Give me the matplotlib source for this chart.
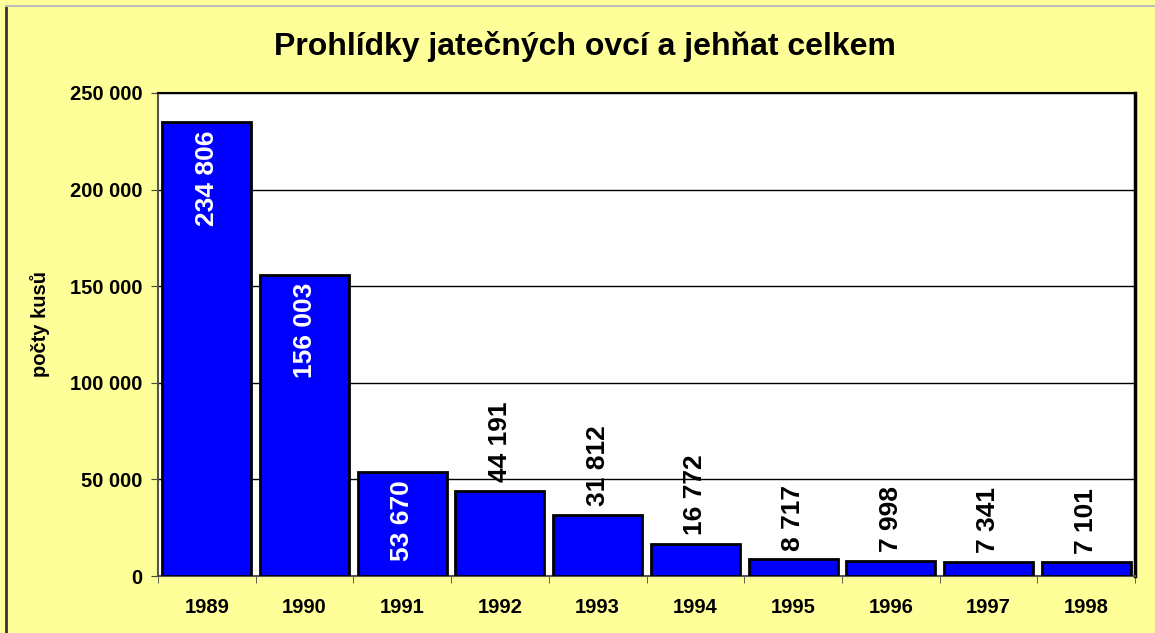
import matplotlib.pyplot as plt
from matplotlib.ticker import FuncFormatter, MultipleLocator
from matplotlib.lines import Line2D

years = ['1989', '1990', '1991', '1992', '1993', '1994', '1995', '1996', '1997', '1998']
counts = [234806, 156003, 53670, 44191, 31812, 16772, 8717, 7998, 7341, 7101]
inside = [True, True, True, False, False, False, False, False, False, False]


def fmt(v):
    return '{:,}'.format(int(v)).replace(',', ' ')


plt.rcParams['font.family'] = ['Liberation Sans', 'DejaVu Sans']
plt.rcParams['font.weight'] = 'bold'

fig = plt.figure(figsize=(11.55, 6.33), dpi=100, facecolor='#FFFF99')
ax = fig.add_axes([158 / 1155, 1 - 576 / 633, (1135 - 158) / 1155, (576 - 93) / 633])
ax.set_facecolor('white')

x = list(range(len(years)))
bars = ax.bar(x, counts, width=0.91, color='#0000FF', edgecolor='black', linewidth=2, zorder=3)

ax.set_xlim(-0.5, len(years) - 0.5)
ax.set_ylim(0, 250000)
ax.yaxis.set_major_locator(MultipleLocator(50000))
ax.yaxis.set_major_formatter(FuncFormatter(lambda v, p: fmt(v)))
ax.grid(axis='y', color='black', linewidth=1, zorder=0)

ax.set_xticks(x)
ax.set_xticklabels(years)
ax.set_xticks([i - 0.5 for i in range(len(years) + 1)], minor=True)
ax.tick_params(axis='x', which='major', length=0, pad=16, labelsize=14.5)
ax.tick_params(axis='x', which='minor', length=5, direction='out', color='#444444')
ax.tick_params(axis='y', length=5, direction='out', pad=6, labelsize=14.5, color='#444444')

for sp in ax.spines.values():
    sp.set_linewidth(1.5)
ax.spines['right'].set_linewidth(2.5)
ax.spines['left'].set_color('#555555')
ax.spines['bottom'].set_color('#555555')

for b, v, ins in zip(bars, counts, inside):
    cx = b.get_x() + b.get_width() / 2
    if ins:
        ax.annotate(fmt(v), (cx, v), xytext=(0, -6), textcoords='offset points',
                    rotation=90, ha='center', va='top', color='white', fontsize=19, zorder=4)
    else:
        ax.annotate(fmt(v), (cx, v), xytext=(0, 6), textcoords='offset points',
                    rotation=90, ha='center', va='bottom', color='black', fontsize=19, zorder=4)

ax.set_ylabel('počty kusů', fontsize=14.5, fontweight='bold', va='center')
ax.yaxis.set_label_coords((40 - 158) / 977, (576 - 324) / 483)
fig.text(585 / 1155, 1 - 46 / 633, 'Prohlídky jatečných ovcí a jehňat celkem',
         ha='center', va='center', fontsize=23, fontweight='bold')

# outer frame
fig.add_artist(Line2D([6 / 1155, 6 / 1155], [0, 1 - 6 / 633], color='#333333', linewidth=2,
                      transform=fig.transFigure))
fig.add_artist(Line2D([6 / 1155, 1], [1 - 6 / 633, 1 - 6 / 633], color='#BBBBBB', linewidth=1.5,
                      transform=fig.transFigure))

fig.savefig('out.png', dpi=100, facecolor=fig.get_facecolor())
